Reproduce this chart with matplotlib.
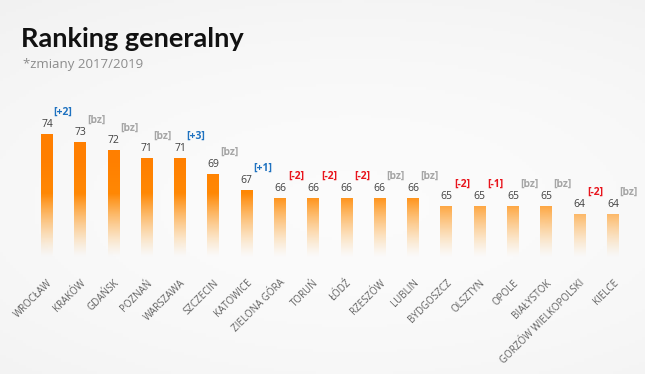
import matplotlib.pyplot as plt
import numpy as np

# data
cities = ['WROCŁAW', 'KRAKÓW', 'GDAŃSK', 'POZNAŃ', 'WARSZAWA', 'SZCZECIN',
          'KATOWICE', 'ZIELONA GÓRA', 'TORUŃ', 'ŁÓDŹ', 'RZESZÓW', 'LUBLIN',
          'BYDGOSZCZ', 'OLSZTYN', 'OPOLE', 'BIAŁYSTOK', 'GORZÓW WIELKOPOLSKI', 'KIELCE']
scores = [74, 73, 72, 71, 71, 69, 67, 66, 66, 66, 66, 66, 65, 65, 65, 65, 64, 64]
changes = ['[+2]', '[bz]', '[bz]', '[bz]', '[+3]', '[bz]', '[+1]', '[-2]', '[-2]',
           '[-2]', '[bz]', '[bz]', '[-2]', '[-1]', '[bz]', '[bz]', '[-2]', '[bz]']

plt.rcParams['font.family'] = ['Open Sans', 'DejaVu Sans']

fig = plt.figure(figsize=(6.45, 3.74), dpi=100)

# light grey background with a soft lighter area
bg = fig.add_axes([0, 0, 1, 1])
gx, gy = np.meshgrid(np.linspace(0, 1, 200), np.linspace(0, 1, 120))
shade = 0.985 - 0.05 * np.clip(((gx - 0.55) ** 2 + (gy - 0.45) ** 2 * 1.6), 0, 1)
bg.imshow(np.dstack([shade] * 3), extent=[0, 1, 0, 1], aspect='auto', origin='lower')
bg.axis('off')

ax = fig.add_axes([0.047, 0.31, 0.929, 0.46])
ax.patch.set_alpha(0)
base = 58.5
x = np.arange(len(cities))
w = 0.36

bars = ax.bar(x, np.array(scores) - base, bottom=base, width=w, color='none', edgecolor='none')
for xi, val, b in zip(x, scores, bars):
    ys = np.linspace(base, val, 100)
    alpha = np.clip((ys - base) / 8, 0, 1) ** 1.3
    img = np.zeros((100, 1, 4))
    img[:, 0, 0] = 1.0
    img[:, 0, 1] = 0.5 + 0.1 * (1 - np.clip((ys - base) / 12, 0, 1))
    img[:, 0, 2] = 0.05 * (1 - np.clip((ys - base) / 12, 0, 1))
    img[:, 0, 3] = alpha
    im = ax.imshow(img, extent=[xi - w / 2, xi + w / 2, base, val], origin='lower',
                   aspect='auto', zorder=2)
    im.set_clip_path(b)

for xi, val, ch in zip(x, scores, changes):
    ax.annotate(str(val), (xi, val), xytext=(0, 3), textcoords='offset points',
                ha='center', va='bottom', fontsize=7.5, color='#404040')
    if ch.startswith('[+'):
        col = '#1f72c0'
    elif ch.startswith('[-'):
        col = '#e8141c'
    else:
        col = '#a6a6a6'
    ax.annotate(ch, (xi, val), xytext=(11.5, 11.5), textcoords='offset points',
                ha='center', va='bottom', fontsize=7.5, color=col, fontweight='bold')

ax.set_xlim(-0.5, len(cities) - 0.5)
ax.set_ylim(base, 80)
ax.set_xticks(x)
ax.set_xticklabels(cities, rotation=45, ha='right', va='top', rotation_mode='anchor',
                   fontsize=7, color='#606060')
ax.tick_params(axis='x', length=0, pad=14)
ax.set_yticks([])
for s in ax.spines.values():
    s.set_visible(False)

fig.text(0.033, 0.897, 'Ranking generalny', fontsize=19.5, fontweight='bold',
         color='#111111', family=['Lato', 'DejaVu Sans'], va='center')
fig.text(0.035, 0.828, '*zmiany 2017/2019', fontsize=9.5, color='#8c8c8c', va='center')

fig.savefig('out.png', dpi=100)
